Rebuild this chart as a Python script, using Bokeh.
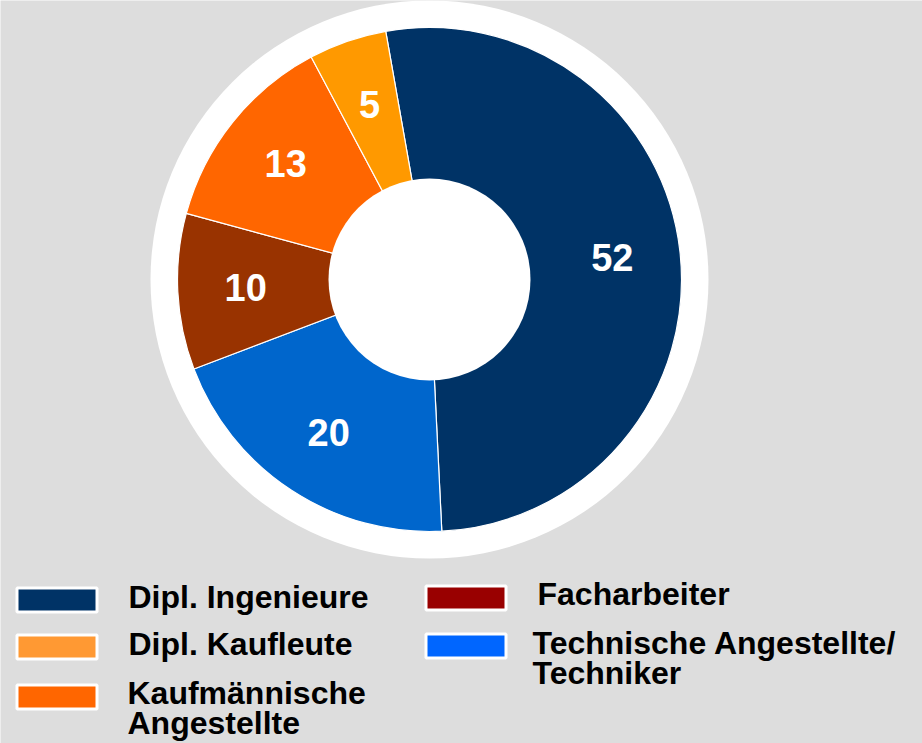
import numpy as np
from bokeh.plotting import figure
from bokeh.models import Range1d, ColumnDataSource
from bokeh.core.properties import value
from bokeh.embed import file_html
from bokeh.resources import INLINE

# ---- data ----
slice_names = ["Dipl. Ingenieure", "Technische Angestellte/Techniker", "Facharbeiter",
               "Kaufmännische Angestellte", "Dipl. Kaufleute"]
slice_values = [52, 20, 10, 13, 5]
slice_colors = ["#003366", "#0066CC", "#993300", "#FF6600", "#FF9900"]

legend_labels = ["Dipl. Ingenieure", "Dipl. Kaufleute", "Kaufmännische\nAngestellte",
                 "Facharbeiter", "Technische Angestellte/\nTechniker"]
legend_colors = ["#003366", "#FF9933", "#FF6600", "#990000", "#0066FF"]

# ---- layout ----
W, H = 922, 743
BG = "#DDDDDD"
FONT = "Liberation Sans"
cx, cy = 429, H - 279
r_ring, r_out, r_in = 279, 252, 101
start_deg = 100.0  # first slice starts slightly left of 12 o'clock, runs clockwise
BASE_FIX = 0.39    # empirical baseline correction (fraction of font size)

p = figure(width=W, height=H, output_backend="svg", toolbar_location=None,
           x_range=Range1d(0, W), y_range=Range1d(0, H), min_border=0,
           background_fill_color=BG, border_fill_color=BG, outline_line_color=None)
p.axis.visible = False
p.grid.visible = False

# white ring behind the donut
p.circle(x=[cx], y=[cy], radius=r_ring, fill_color="white", line_color=None)

vals = np.array(slice_values, dtype=float)
frac = vals / vals.sum()
cum = np.concatenate([[0], np.cumsum(frac)[:-1]])
end_a = np.deg2rad(start_deg - cum * 360)
start_a = np.deg2rad(start_deg - (cum + frac) * 360)
mid_a = (start_a + end_a) / 2

src = ColumnDataSource(dict(x=[cx] * len(vals), y=[cy] * len(vals), s=start_a, e=end_a,
                            c=slice_colors, name=slice_names))
p.wedge(x="x", y="y", radius=r_out, start_angle="s", end_angle="e", fill_color="c",
        line_color="white", line_width=1.2, source=src)

# inner hole
p.circle(x=[cx], y=[cy], radius=r_in, fill_color="white", line_color=None)

# slice labels
r_lab = 184
fs_lab = 38
cap = 0.716 * fs_lab
lx = cx + r_lab * np.cos(mid_a)
ly = cy + r_lab * np.sin(mid_a) - cap / 2 + BASE_FIX * fs_lab
p.text(x=lx, y=ly, text=[str(v) for v in slice_values], text_color="white",
       text_font=value(FONT), text_font_style="bold", text_font_size=f"{fs_lab}px",
       text_align="center", text_baseline="alphabetic")

# legend
box_pos = [(15, 586), (15, 633), (15, 683), (424, 584), (424, 632)]   # left, top (px)
text_pos = [(128, 609), (128, 656), (127, 705), (537, 606), (532, 655)]  # left, baseline (px)
line_gap = 30
fs_leg = 32
bw, bh = 83, 27
for lab, col, (bx, by), (tx, ty) in zip(legend_labels, legend_colors, box_pos, text_pos):
    p.quad(left=bx + 1.5, right=bx + bw - 1.5, top=H - by - 1.5, bottom=H - by - bh + 1.5,
           fill_color=col, line_color="white", line_width=3)
    for i, line in enumerate(lab.split("\n")):
        p.text(x=[tx], y=[H - ty - i * line_gap + BASE_FIX * fs_leg], text=[line],
               text_color="black", text_font=value(FONT), text_font_style="bold",
               text_font_size=f"{fs_leg}px", text_align="left", text_baseline="alphabetic")

open("out.html", "w").write(file_html(p, INLINE))
